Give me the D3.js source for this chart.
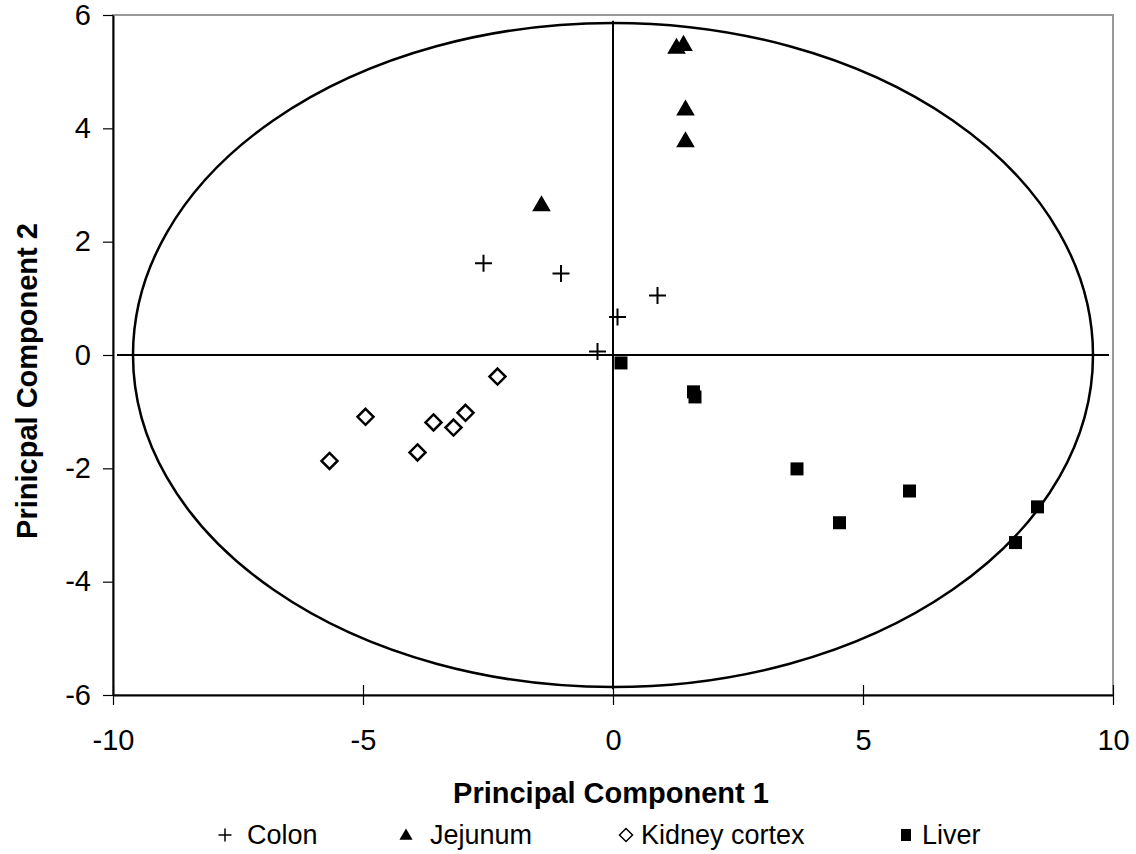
<!doctype html>
<html>
<head>
<meta charset="utf-8">
<title>PCA scores</title>
<script src="https://cdn.jsdelivr.net/npm/d3@7"></script>
<style>
  body { margin: 0; background: #fff; }
  svg text { font-family: "Liberation Sans", Arial, sans-serif; fill: #000; }
</style>
</head>
<body>
<div id="chart"></div>
<script>
// scores
var colonX = [-2.59, -1.04, 0.89, 0.09, -0.31];
var colonY = [1.62, 1.44, 1.05, 0.67, 0.06];
var jejunumX = [1.27, 1.41, 1.45, 1.45, -1.43];
var jejunumY = [5.41, 5.46, 4.32, 3.76, 2.63];
var kidneyX = [-2.31, -2.95, -3.19, -3.59, -4.95, -3.91, -5.67];
var kidneyY = [-0.38, -1.02, -1.28, -1.19, -1.09, -1.72, -1.87];
var liverX = [0.16, 1.61, 1.64, 3.68, 5.93, 4.53, 8.49, 8.05];
var liverY = [-0.14, -0.65, -0.74, -2.01, -2.40, -2.96, -2.68, -3.31];

var seriesNames = ["Colon", "Jejunum", "Kidney cortex", "Liver"];
var xTicks = [-10, -5, 0, 5, 10];
var yTicks = [-6, -4, -2, 0, 2, 4, 6];
var ellipseRadii = [9.6, 5.86];   // confidence ellipse, PC1 / PC2 units

var W = 1136, H = 854;
var margin = {top: 15, right: 23, bottom: 159, left: 113},
    width = W - margin.left - margin.right,
    height = H - margin.top - margin.bottom;

var svg = d3.select("#chart").append("svg")
    .attr("width", W)
    .attr("height", H);

var g = svg.append("g")
    .attr("transform", "translate(" + margin.left + "," + margin.top + ")");

var x = d3.scaleLinear().domain([-10, 10]).range([0, width]);
var y = d3.scaleLinear().domain([-6, 6]).range([height, 0]);

// plot area border (grey)
g.append("rect")
    .attr("x", 0).attr("y", 0)
    .attr("width", width).attr("height", height)
    .attr("fill", "none")
    .attr("stroke", "#999")
    .attr("stroke-width", 2);

// ellipse
g.append("ellipse")
    .attr("cx", x(0)).attr("cy", y(0))
    .attr("rx", x(ellipseRadii[0]) - x(0))
    .attr("ry", y(0) - y(ellipseRadii[1]))
    .attr("fill", "none")
    .attr("stroke", "#000")
    .attr("stroke-width", 2.5);

// cross hairs through origin
g.append("line")
    .attr("x1", x(-9.92)).attr("x2", x(9.92))
    .attr("y1", y(0)).attr("y2", y(0))
    .attr("stroke", "#000").attr("stroke-width", 2);
g.append("line")
    .attr("x1", x(0)).attr("x2", x(0))
    .attr("y1", y(5.9)).attr("y2", y(-5.9))
    .attr("stroke", "#000").attr("stroke-width", 2);

var fmt = function(d) { return String(d); };   // plain hyphen minus, like the original

// axes
var xAxis = g.append("g")
    .attr("transform", "translate(0," + height + ")")
    .call(d3.axisBottom(x).tickValues(xTicks).tickSizeInner(10).tickSizeOuter(0).tickPadding(24).tickFormat(fmt));
xAxis.selectAll(".tick line").attr("y1", -10).attr("stroke", "#000").attr("stroke-width", 1.2);
xAxis.select(".domain").attr("stroke", "#000").attr("stroke-width", 2);
xAxis.selectAll(".tick text")
    .style("font-size", "29px")
    .attr("font-family", null);

var yAxis = g.append("g")
    .call(d3.axisLeft(y).tickValues(yTicks).tickSizeInner(10).tickSizeOuter(0).tickPadding(12).tickFormat(fmt));
yAxis.selectAll(".tick line").attr("stroke", "#000").attr("stroke-width", 1.2);
yAxis.select(".domain").attr("stroke", "#000").attr("stroke-width", 2);
yAxis.selectAll(".tick text")
    .style("font-size", "29px")
    .attr("font-family", null);

// marker paths
function plusPath(s) { return "M" + (-s) + ",0H" + s + "M0," + (-s) + "V" + s; }
function diamondPath(s) { return "M0," + (-s) + "L" + s + ",0L0," + s + "L" + (-s) + ",0Z"; }
var triangle = d3.symbol().type(d3.symbolTriangle).size(150);
var square = d3.symbol().type(d3.symbolSquare).size(169);

function pairs(xs, ys) { return xs.map(function(v, i) { return [v, ys[i]]; }); }

g.selectAll(".colon")
    .data(pairs(colonX, colonY))
  .enter().append("path")
    .attr("class", "colon")
    .attr("transform", function(d) { return "translate(" + x(d[0]) + "," + y(d[1]) + ")"; })
    .attr("d", plusPath(8.5))
    .attr("stroke", "#000").attr("stroke-width", 2).attr("fill", "none");

g.selectAll(".jejunum")
    .data(pairs(jejunumX, jejunumY))
  .enter().append("path")
    .attr("class", "jejunum")
    .attr("transform", function(d) { return "translate(" + x(d[0]) + "," + y(d[1]) + ")"; })
    .attr("d", triangle)
    .attr("fill", "#000");

g.selectAll(".kidney")
    .data(pairs(kidneyX, kidneyY))
  .enter().append("path")
    .attr("class", "kidney")
    .attr("transform", function(d) { return "translate(" + x(d[0]) + "," + y(d[1]) + ")"; })
    .attr("d", diamondPath(8))
    .attr("fill", "#fff")
    .attr("stroke", "#000").attr("stroke-width", 2.5);

g.selectAll(".liver")
    .data(pairs(liverX, liverY))
  .enter().append("path")
    .attr("class", "liver")
    .attr("transform", function(d) { return "translate(" + x(d[0]) + "," + y(d[1]) + ")"; })
    .attr("d", square)
    .attr("fill", "#000");

// axis titles
svg.append("text")
    .attr("x", margin.left + x(0) - 2)
    .attr("y", 803)
    .attr("text-anchor", "middle")
    .style("font-size", "29px")
    .style("font-weight", "bold")
    .text("Principal Component 1");

svg.append("text")
    .attr("transform", "translate(37," + 381 + ") rotate(-90)")
    .attr("text-anchor", "middle")
    .style("font-size", "29px")
    .style("font-weight", "bold")
    .text("Prinicpal Component 2");

// legend
var legendX = [225, 406, 626, 906];
var legendTextX = [247, 430, 641, 922];
var legendY = 835;
var leg = svg.append("g");
leg.append("path")
    .attr("transform", "translate(" + legendX[0] + "," + legendY + ")")
    .attr("d", plusPath(6.5))
    .attr("stroke", "#000").attr("stroke-width", 1.5).attr("fill", "none");
leg.append("path")
    .attr("transform", "translate(" + legendX[1] + "," + (legendY + 1) + ")")
    .attr("d", d3.symbol().type(d3.symbolTriangle).size(75))
    .attr("fill", "#000");
leg.append("path")
    .attr("transform", "translate(" + legendX[2] + "," + legendY + ")")
    .attr("d", diamondPath(6.5))
    .attr("fill", "#fff").attr("stroke", "#000").attr("stroke-width", 1.5);
leg.append("rect")
    .attr("x", legendX[3] - 5).attr("y", legendY - 6)
    .attr("width", 10).attr("height", 12)
    .attr("fill", "#000");
leg.selectAll("text")
    .data(seriesNames)
  .enter().append("text")
    .attr("x", function(d, i) { return legendTextX[i]; })
    .attr("y", legendY + 9)
    .style("font-size", "27px")
    .text(function(d) { return d; });
</script>
</body>
</html>
